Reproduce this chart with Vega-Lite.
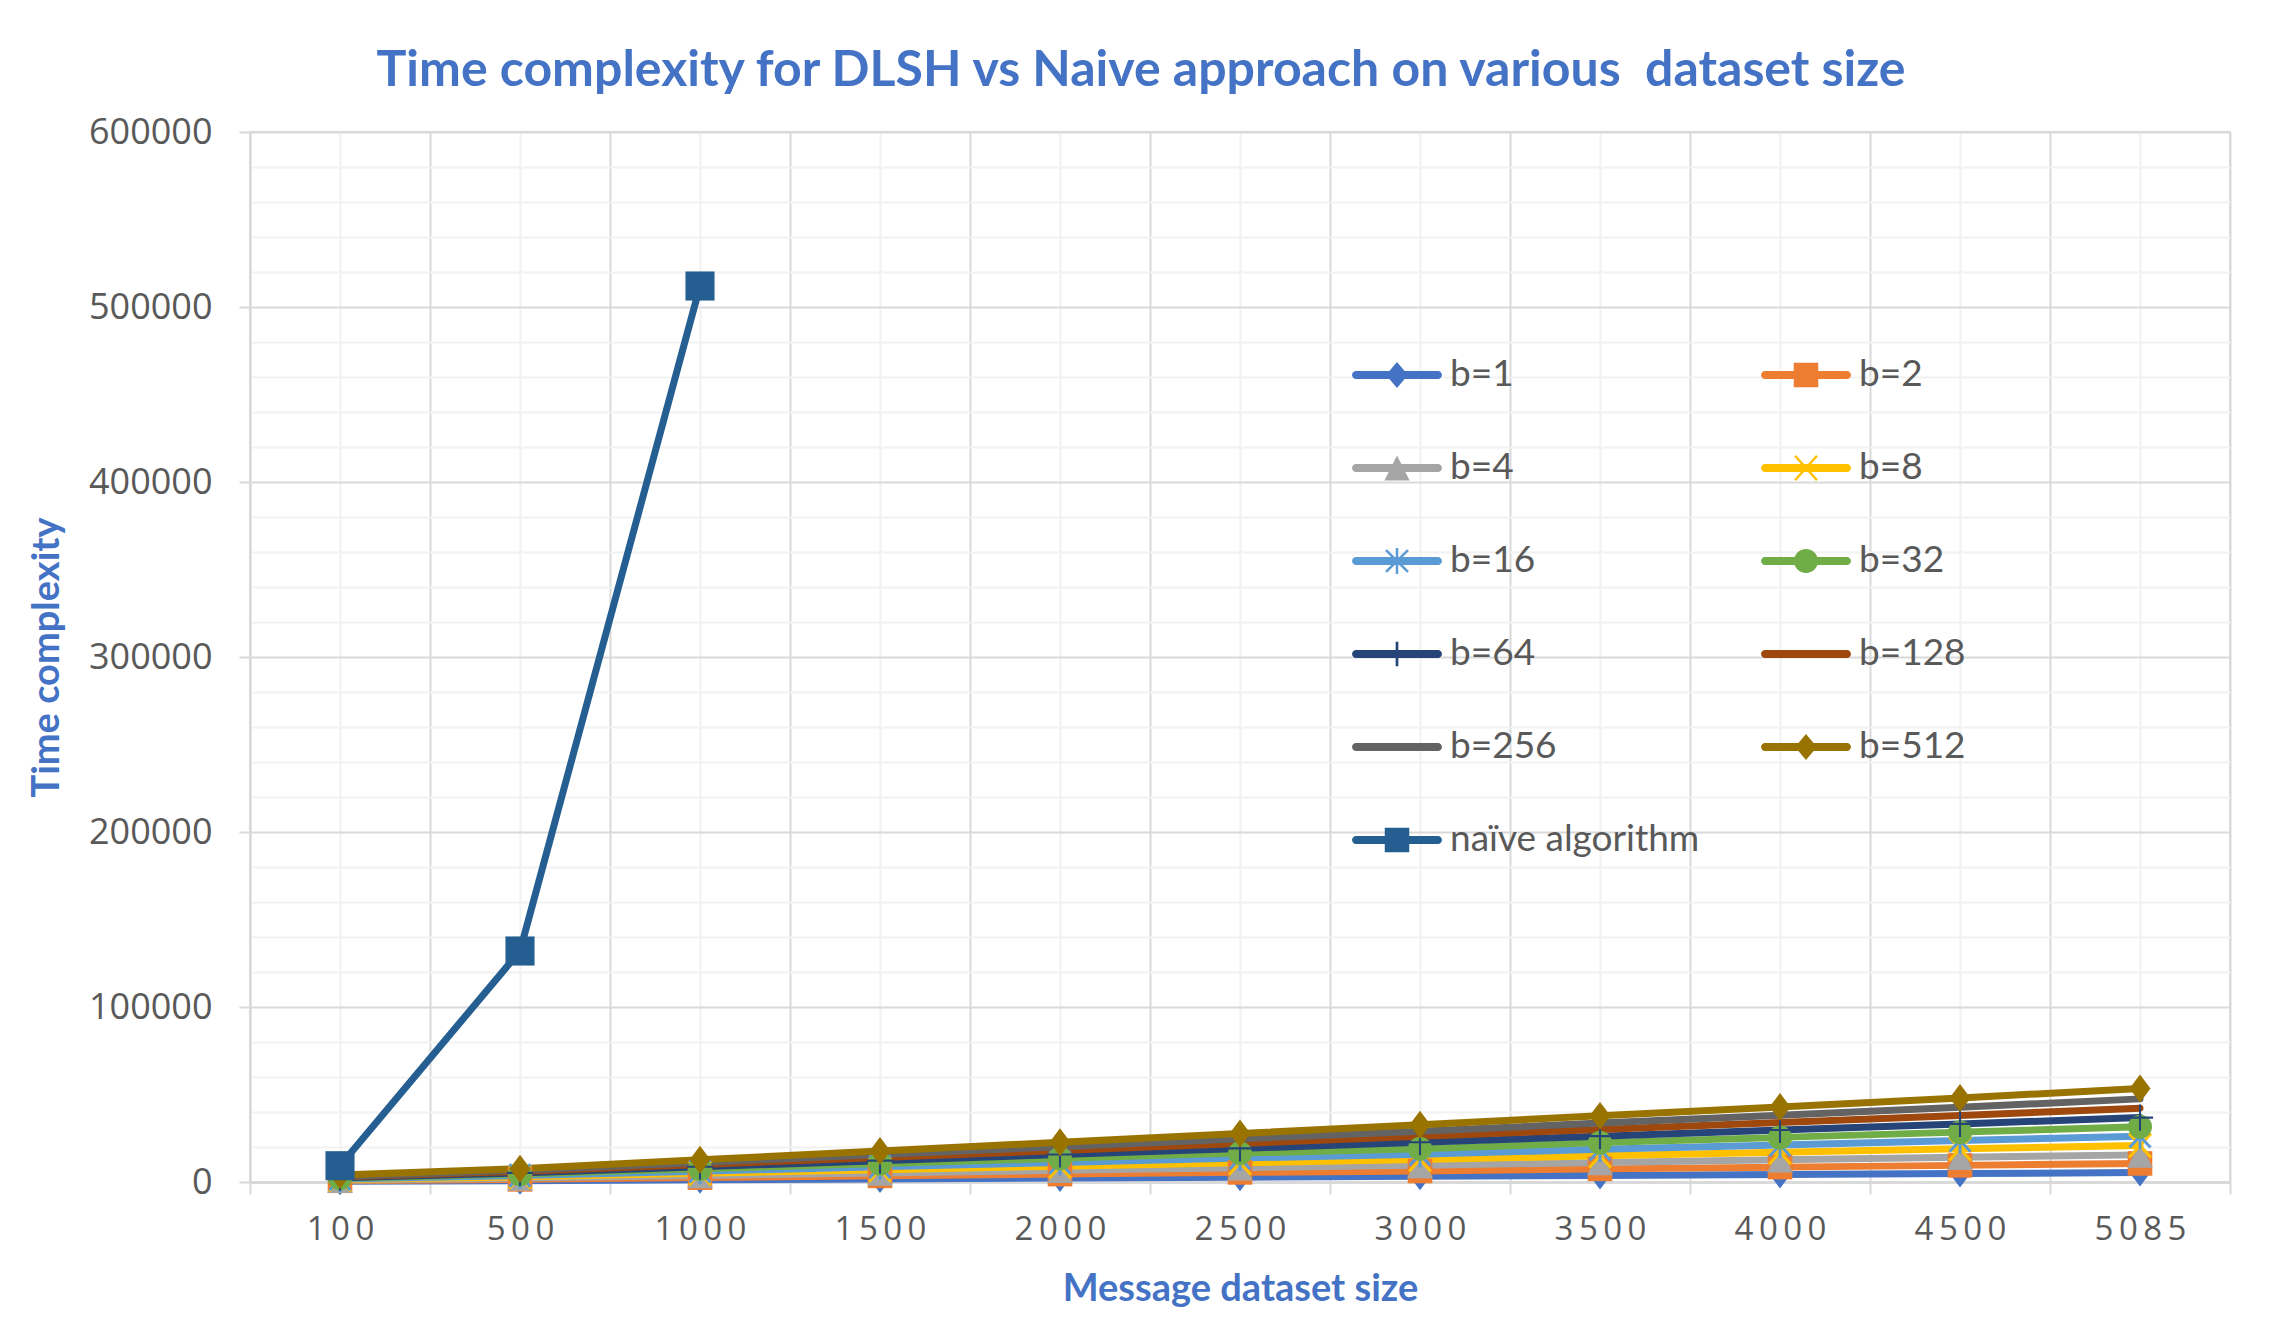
{
  "$schema": "https://vega.github.io/schema/vega-lite/v6.json",
  "width": 1980,
  "height": 1050,
  "autosize": {"type": "none"},
  "padding": {"left": 250, "top": 132, "right": 53, "bottom": 151},
  "background": "white",
  "title": {
    "text": "Time complexity for DLSH vs Naive approach on various\u00a0 dataset size",
    "anchor": "middle", "frame": "group", "dx": -99, "offset": 18,
    "font": "Lato", "fontSize": 50, "fontWeight": "bold", "color": "#4472C4"
  },
  "config": {
    "view": {"stroke": "#d9d9d9", "strokeWidth": 2}
  },
  "data": {"values": [
    {"size":100,"series":"b=1","time":400},{"size":500,"series":"b=1","time":700},{"size":1000,"series":"b=1","time":1250},{"size":1500,"series":"b=1","time":1750},{"size":2000,"series":"b=1","time":2250},{"size":2500,"series":"b=1","time":2750},{"size":3000,"series":"b=1","time":3250},{"size":3500,"series":"b=1","time":3700},{"size":4000,"series":"b=1","time":4300},{"size":4500,"series":"b=1","time":4800},{"size":5085,"series":"b=1","time":5400},
    {"size":100,"series":"b=2","time":700},{"size":500,"series":"b=2","time":1500},{"size":1000,"series":"b=2","time":2500},{"size":1500,"series":"b=2","time":3500},{"size":2000,"series":"b=2","time":4500},{"size":2500,"series":"b=2","time":5500},{"size":3000,"series":"b=2","time":6300},{"size":3500,"series":"b=2","time":7500},{"size":4000,"series":"b=2","time":8500},{"size":4500,"series":"b=2","time":9500},{"size":5085,"series":"b=2","time":10600},
    {"size":100,"series":"b=4","time":1000},{"size":500,"series":"b=4","time":2250},{"size":1000,"series":"b=4","time":3700},{"size":1500,"series":"b=4","time":5200},{"size":2000,"series":"b=4","time":6700},{"size":2500,"series":"b=4","time":8200},{"size":3000,"series":"b=4","time":9500},{"size":3500,"series":"b=4","time":11200},{"size":4000,"series":"b=4","time":12700},{"size":4500,"series":"b=4","time":14200},{"size":5085,"series":"b=4","time":15500},
    {"size":100,"series":"b=8","time":1400},{"size":500,"series":"b=8","time":3000},{"size":1000,"series":"b=8","time":5000},{"size":1500,"series":"b=8","time":7000},{"size":2000,"series":"b=8","time":9000},{"size":2500,"series":"b=8","time":11000},{"size":3000,"series":"b=8","time":12800},{"size":3500,"series":"b=8","time":15000},{"size":4000,"series":"b=8","time":17000},{"size":4500,"series":"b=8","time":19000},{"size":5085,"series":"b=8","time":20800},
    {"size":100,"series":"b=16","time":1750},{"size":500,"series":"b=16","time":3700},{"size":1000,"series":"b=16","time":6200},{"size":1500,"series":"b=16","time":8700},{"size":2000,"series":"b=16","time":11200},{"size":2500,"series":"b=16","time":13700},{"size":3000,"series":"b=16","time":15800},{"size":3500,"series":"b=16","time":18700},{"size":4000,"series":"b=16","time":21200},{"size":4500,"series":"b=16","time":23700},{"size":5085,"series":"b=16","time":26200},
    {"size":100,"series":"b=32","time":2100},{"size":500,"series":"b=32","time":4500},{"size":1000,"series":"b=32","time":7500},{"size":1500,"series":"b=32","time":10500},{"size":2000,"series":"b=32","time":13500},{"size":2500,"series":"b=32","time":16500},{"size":3000,"series":"b=32","time":19000},{"size":3500,"series":"b=32","time":22500},{"size":4000,"series":"b=32","time":25500},{"size":4500,"series":"b=32","time":28500},{"size":5085,"series":"b=32","time":31600},
    {"size":100,"series":"b=64","time":2450},{"size":500,"series":"b=64","time":5200},{"size":1000,"series":"b=64","time":8700},{"size":1500,"series":"b=64","time":12200},{"size":2000,"series":"b=64","time":15700},{"size":2500,"series":"b=64","time":19200},{"size":3000,"series":"b=64","time":22700},{"size":3500,"series":"b=64","time":26200},{"size":4000,"series":"b=64","time":29700},{"size":4500,"series":"b=64","time":33200},{"size":5085,"series":"b=64","time":36800},
    {"size":100,"series":"b=128","time":2800},{"size":500,"series":"b=128","time":6000},{"size":1000,"series":"b=128","time":10000},{"size":1500,"series":"b=128","time":14000},{"size":2000,"series":"b=128","time":18000},{"size":2500,"series":"b=128","time":22000},{"size":3000,"series":"b=128","time":26200},{"size":3500,"series":"b=128","time":30000},{"size":4000,"series":"b=128","time":34000},{"size":4500,"series":"b=128","time":38000},{"size":5085,"series":"b=128","time":42200},
    {"size":100,"series":"b=256","time":3150},{"size":500,"series":"b=256","time":6700},{"size":1000,"series":"b=256","time":11200},{"size":1500,"series":"b=256","time":15700},{"size":2000,"series":"b=256","time":20200},{"size":2500,"series":"b=256","time":24700},{"size":3000,"series":"b=256","time":29000},{"size":3500,"series":"b=256","time":33700},{"size":4000,"series":"b=256","time":38200},{"size":4500,"series":"b=256","time":42700},{"size":5085,"series":"b=256","time":47500},
    {"size":100,"series":"b=512","time":4000},{"size":500,"series":"b=512","time":7600},{"size":1000,"series":"b=512","time":12700},{"size":1500,"series":"b=512","time":17700},{"size":2000,"series":"b=512","time":22700},{"size":2500,"series":"b=512","time":27700},{"size":3000,"series":"b=512","time":32700},{"size":3500,"series":"b=512","time":37800},{"size":4000,"series":"b=512","time":42900},{"size":4500,"series":"b=512","time":48000},{"size":5085,"series":"b=512","time":53400},
    {"size":100,"series":"naïve algorithm","time":9300},{"size":500,"series":"naïve algorithm","time":132000},{"size":1000,"series":"naïve algorithm","time":512000}
  ]},
  "layer": [
    {
      "mark": {"type": "line", "strokeWidth": 7, "strokeCap": "round", "strokeJoin": "round"},
      "encoding": {
        "x": {
          "field": "size", "type": "ordinal", "bandPosition": 0.5,
          "scale": {"type": "band", "paddingInner": 0, "paddingOuter": 0},
          "axis": {
            "orient": "bottom", "title": "Message dataset size", "tickBand": "extent",
            "grid": true, "gridColor": "#d9d9d9", "gridWidth": 2,
            "ticks": true, "tickSize": 12, "tickColor": "#d9d9d9", "tickWidth": 2,
            "domainColor": "#d9d9d9", "domainWidth": 3,
            "labelAngle": 0, "labelFont": "Open Sans", "labelFontSize": 33, "labelColor": "#595959", "labelPadding": 19,
            "labelExpr": "join(split(datum.label, ''), '\u2009')",
            "titleFont": "Lato", "titleFontSize": 38, "titleFontWeight": "bold", "titleColor": "#4472C4", "titlePadding": 24
          }
        },
        "y": {
          "field": "time", "type": "quantitative",
          "scale": {"domain": [0, 600000], "nice": false},
          "axis": {
            "orient": "left", "title": "Time complexity",
            "values": [0, 100000, 200000, 300000, 400000, 500000, 600000], "format": "d",
            "grid": true, "gridColor": "#d9d9d9", "gridWidth": 2,
            "ticks": true, "tickSize": 11, "tickColor": "#d9d9d9", "tickWidth": 2,
            "domainColor": "#d9d9d9", "domainWidth": 2,
            "labelFont": "Open Sans", "labelFontSize": 36, "labelColor": "#595959", "labelPadding": 27,
            "titleFont": "Lato", "titleFontSize": 38, "titleFontWeight": "bold", "titleColor": "#4472C4", "titlePadding": 22
          }
        },
        "color": {
          "field": "series", "type": "nominal",
          "scale": {
            "domain": ["b=1","b=2","b=4","b=8","b=16","b=32","b=64","b=128","b=256","b=512","naïve algorithm"],
            "range": ["#4472C4","#ED7D31","#A5A5A5","#FFC000","#5B9BD5","#70AD47","#264478","#9E480E","#636363","#997300","#255E91"]
          },
          "legend": null
        }
      }
    },
    {
      "mark": {"type": "point", "filled": true, "size": 900, "opacity": 1},
      "encoding": {
        "x": {
          "field": "size", "type": "ordinal", "bandPosition": 0.5,
          "scale": {"type": "band", "paddingInner": 0, "paddingOuter": 0},
          "axis": {"orient": "top", "grid": true, "gridColor": "#f2f2f2", "gridWidth": 2, "labels": false, "ticks": false, "domain": false, "title": null}
        },
        "y": {
          "field": "time", "type": "quantitative",
          "scale": {"domain": [0, 600000], "nice": false},
          "axis": {
            "orient": "right", "grid": true, "gridColor": "#f2f2f2", "gridWidth": 2, "labels": false, "ticks": false, "domain": false, "title": null,
            "values": [20000,40000,60000,80000,120000,140000,160000,180000,220000,240000,260000,280000,320000,340000,360000,380000,420000,440000,460000,480000,520000,540000,560000,580000]
          }
        },
        "color": {
          "field": "series", "type": "nominal",
          "scale": {
            "domain": ["b=1","b=2","b=4","b=8","b=16","b=32","b=64","b=128","b=256","b=512","naïve algorithm"],
            "range": ["#4472C4","#ED7D31","#A5A5A5","#FFC000","#5B9BD5","#70AD47","#264478","#9E480E","#636363","#997300","#255E91"]
          },
          "legend": null
        },
        "shape": {
          "field": "series", "type": "nominal",
          "scale": {
            "domain": ["b=1","b=2","b=4","b=8","b=16","b=32","b=64","b=128","b=256","b=512","naïve algorithm"],
            "range": [
              "M0,-0.93L-0.7,0L0,0.93L0.7,0Z",
              "M-0.82,-0.82V0.82H0.82V-0.82Z",
              "M0,-0.85L-0.85,0.85H0.85Z",
              "M-0.804,-0.733L0.656,0.867L0.804,0.733L-0.656,-0.867ZM0.656,-0.867L-0.804,0.733L-0.656,0.867L0.804,-0.733Z",
              "M-0.1,-0.87V0.87H0.1V-0.87ZM-0.773,-0.682L0.627,0.818L0.773,0.682L-0.627,-0.818ZM0.627,-0.818L-0.773,0.682L-0.627,0.818L0.773,-0.682Z",
              "M0.8,0A0.8,0.8 0 1,0 -0.8,0A0.8,0.8 0 1,0 0.8,0Z",
              "M-0.07,-0.87V0.87H0.07V-0.87ZM-0.87,-0.07V0.07H0.87V-0.07Z",
              "M0,0L0,0Z",
              "M0,0L0,0Z",
              "M0,-0.93L-0.7,0L0,0.93L0.7,0Z",
              "M-0.97,-0.97V0.97H0.97V-0.97Z"
            ]
          },
          "legend": null
        }
      }
    },
    {
      "transform": [{"filter": "datum.time < 0"}],
      "mark": {"type": "point", "filled": true, "size": 8100, "opacity": 1},
      "encoding": {
        "x": {"field": "size", "type": "ordinal", "bandPosition": 0.5, "scale": {"type": "band", "paddingInner": 0, "paddingOuter": 0}, "axis": null},
        "y": {"field": "time", "type": "quantitative", "scale": {"domain": [0, 600000], "nice": false}, "axis": null},
        "color": {
          "field": "series", "type": "nominal",
          "scale": {
            "domain": ["b=1","b=2","b=4","b=8","b=16","b=32","b=64","b=128","b=256","b=512","naïve algorithm"],
            "range": ["#4472C4","#ED7D31","#A5A5A5","#FFC000","#5B9BD5","#70AD47","#264478","#9E480E","#636363","#997300","#255E91"]
          },
          "legend": {
            "title": null, "orient": "none", "legendX": 1101, "legendY": 197, "columns": 2, "direction": "horizontal",
            "columnPadding": 60, "rowPadding": 29, "symbolSize": 8100, "padding": 0,
            "labelFont": "Lato", "labelFontSize": 37, "labelColor": "#595959", "labelOffset": 7, "labelLimit": 400
          }
        },
        "shape": {
          "field": "series", "type": "nominal",
          "scale": {
            "domain": ["b=1","b=2","b=4","b=8","b=16","b=32","b=64","b=128","b=256","b=512","naïve algorithm"],
            "range": [
              "M-0.91,-0.089A0.089,0.089 0 0,0 -0.91,0.089H0.91A0.089,0.089 0 0,0 0.91,-0.089ZM0,-0.289L-0.244,0L0,0.289L0.244,0Z",
              "M-0.91,-0.089A0.089,0.089 0 0,0 -0.91,0.089H0.91A0.089,0.089 0 0,0 0.91,-0.089ZM-0.272,-0.272V0.272H0.272V-0.272Z",
              "M-0.91,-0.089A0.089,0.089 0 0,0 -0.91,0.089H0.91A0.089,0.089 0 0,0 0.91,-0.089ZM0,-0.28L-0.28,0.28H0.28Z",
              "M-0.91,-0.089A0.089,0.089 0 0,0 -0.91,0.089H0.91A0.089,0.089 0 0,0 0.91,-0.089ZM-0.265,-0.253L0.223,0.291L0.265,0.253L-0.223,-0.291ZM0.223,-0.291L-0.265,0.253L-0.223,0.291L0.265,-0.253Z",
              "M-0.91,-0.089A0.089,0.089 0 0,0 -0.91,0.089H0.91A0.089,0.089 0 0,0 0.91,-0.089ZM-0.028,-0.289V0.289H0.028V-0.289ZM-0.264,-0.22L0.224,0.26L0.264,0.22L-0.224,-0.26ZM0.224,-0.26L-0.264,0.22L-0.224,0.26L0.264,-0.22Z",
              "M-0.91,-0.089A0.089,0.089 0 0,0 -0.91,0.089H0.91A0.089,0.089 0 0,0 0.91,-0.089ZM0.267,0A0.267,0.267 0 1,0 -0.267,0A0.267,0.267 0 1,0 0.267,0Z",
              "M-0.91,-0.089A0.089,0.089 0 0,0 -0.91,0.089H0.91A0.089,0.089 0 0,0 0.91,-0.089ZM-0.03,-0.272V0.272H0.03V-0.272Z",
              "M-0.91,-0.089A0.089,0.089 0 0,0 -0.91,0.089H0.91A0.089,0.089 0 0,0 0.91,-0.089Z",
              "M-0.91,-0.089A0.089,0.089 0 0,0 -0.91,0.089H0.91A0.089,0.089 0 0,0 0.91,-0.089Z",
              "M-0.91,-0.089A0.089,0.089 0 0,0 -0.91,0.089H0.91A0.089,0.089 0 0,0 0.91,-0.089ZM0,-0.289L-0.244,0L0,0.289L0.244,0Z",
              "M-0.91,-0.089A0.089,0.089 0 0,0 -0.91,0.089H0.91A0.089,0.089 0 0,0 0.91,-0.089ZM-0.272,-0.272V0.272H0.272V-0.272Z"
            ]
          },
          "legend": {
            "title": null, "orient": "none", "legendX": 1101, "legendY": 197, "columns": 2, "direction": "horizontal",
            "columnPadding": 60, "rowPadding": 29, "symbolSize": 8100, "padding": 0,
            "labelFont": "Lato", "labelFontSize": 37, "labelColor": "#595959", "labelOffset": 7, "labelLimit": 400
          }
        }
      }
    }
  ],
  "resolve": {"scale": {"shape": "independent", "color": "independent"}, "axis": {"x": "independent", "y": "independent"}}
}
